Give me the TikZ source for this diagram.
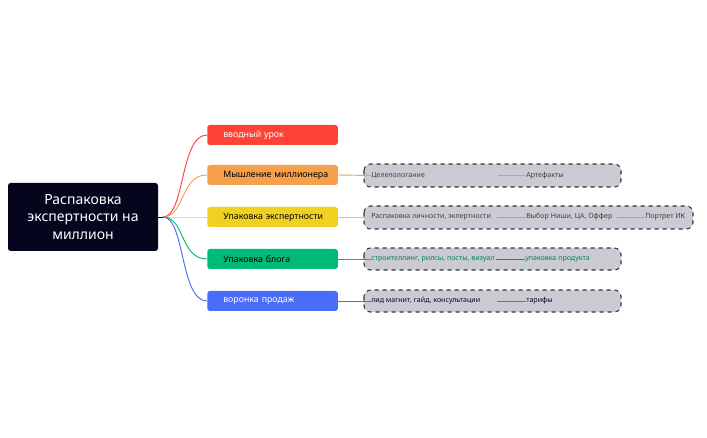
\documentclass[tikz,border=0pt]{standalone}
\usepackage{fontspec}
\setmainfont{Noto Sans}
\begin{document}
\begin{tikzpicture}[x=0.75pt,y=-0.75pt,
 root/.style={fill=rootc,rounded corners=2pt,text=white,font=\bfseries\fontsize{10.5}{13}\selectfont,align=center,minimum width=112.5pt,minimum height=51pt,inner sep=0},
 br/.style={rounded corners=2pt,font=\bfseries\fontsize{6.6}{8}\selectfont,anchor=west,minimum width=98pt,minimum height=15pt,inner sep=0,text width=88pt,align=left},
 box/.style={fill=boxc,draw=black!80,dashed,line width=0.8pt,rounded corners=5pt},
 sub/.style={font=\fontsize{5.3}{6}\selectfont,anchor=west,inner sep=0},
 con/.style={line width=0.7pt}]
\definecolor{rootc}{HTML}{05061E}
\definecolor{boxc}{HTML}{CBCBD3}
\definecolor{cr}{HTML}{FF4136}
\definecolor{co}{HTML}{F5A04C}
\definecolor{cy}{HTML}{F0D020}
\definecolor{cg}{HTML}{00BB77}
\definecolor{cb}{HTML}{4A6CF7}
\useasboundingbox (0,0) rectangle (707,438);
\node[root] (r) at (83,217) {Распаковка\\экспертности на\\миллион};
\coordinate (h) at (163,217);
\node[br,fill=cr,text=white] (b1) at (207,135) {\hspace*{7pt}вводный урок};
\node[br,fill=co] (b2) at (207,175) {\hspace*{7pt}Мышление миллионера};
\node[br,fill=cy] (b3) at (207,217) {\hspace*{7pt}Упаковка экспертности};
\node[br,fill=cg] (b4) at (207,259) {\hspace*{7pt}Упаковка блога};
\node[br,fill=cb,text=white] (b5) at (207,301) {\hspace*{7pt}воронка продаж};
\draw[con] (r.east) -- (h);
\foreach \b/\c in {b1/cr,b2/co,b3/cy,b4/cg,b5/cb}
 \draw[con,\c] (h) .. controls (185,217) and (180,0|-\b.west) .. (\b.west);
\draw[box] (364,164) rectangle (621,187);
\draw[box] (364,206) rectangle (693,229);
\draw[box] (364,248) rectangle (621,270);
\draw[box] (364,290) rectangle (621,312);
\node[sub,text=black!75] (s1) at (371,175.5) {Целепологание};
\node[sub,text=black!75] (s2) at (526,175.5) {Артефакты};
\node[sub,text=black!75] (s3) at (371,217) {Распаковка личности, экпертности};
\node[sub,text=black!75] (s4) at (526,217) {Выбор Ниши, ЦА, Оффер};
\node[sub,text=black!75] (s5) at (645,217) {Портрет ИК};
\node[sub,text=cg!70!black] (s6) at (371,259) {строителлинг, рилсы, посты, визуал};
\node[sub,text=cg!70!black] (s7) at (525,259) {упаковка продукта};
\node[sub,text=rootc] (s8) at (371,301) {лид магнит, гайд, консультации};
\node[sub,text=rootc] (s9) at (526,301) {тарифы};
\draw[con,co] (b2.east) -- (s1.west);
\draw[con,co!80!brown] (498,175.5) -- (s2.west);
\draw[con,cy] (b3.east) -- (s3.west);
\draw[con,cy!85!black] (497,217) -- (s4.west);
\draw[con,cy!85!black] (617,217) -- (s5.west);
\draw[con,cg] (b4.east) -- (s6.west);
\draw[con,cg!80!black] (496,259) -- (s7.west);
\draw[con,cb] (b5.east) -- (s8.west);
\draw[con,cb] (497,301) -- (s9.west);
\end{tikzpicture}
\end{document}
